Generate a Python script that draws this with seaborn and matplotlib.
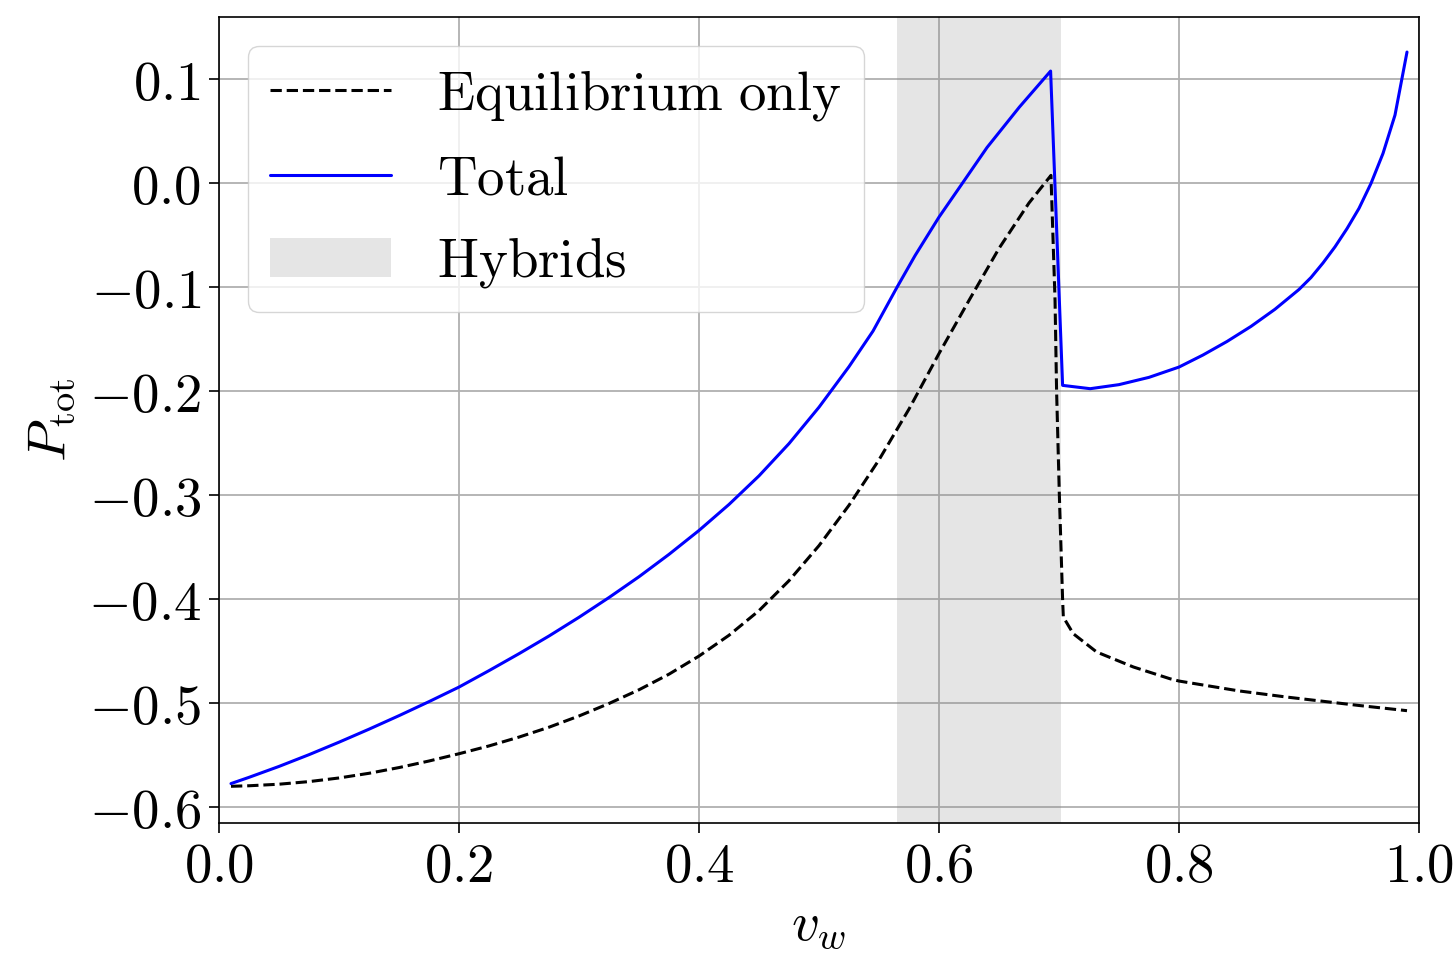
import numpy as np
import pandas as pd
import matplotlib
matplotlib.use("Agg")
import matplotlib.pyplot as plt
import seaborn as sns
from matplotlib.ticker import FuncFormatter
from matplotlib.patches import Patch
from matplotlib.lines import Line2D

# ---- data ----
vw_total = [0.01, 0.025, 0.05, 0.075, 0.10, 0.125, 0.15, 0.175, 0.20, 0.225, 0.25,
            0.275, 0.30, 0.325, 0.35, 0.375, 0.40, 0.425, 0.45, 0.475, 0.50, 0.525,
            0.545, 0.5647, 0.58, 0.60, 0.62, 0.64, 0.667, 0.693, 0.703, 0.726, 0.75,
            0.775, 0.80, 0.82, 0.84, 0.86, 0.88, 0.90, 0.91, 0.92, 0.93, 0.94, 0.95,
            0.96, 0.97, 0.98, 0.99]
p_total = [-0.5771, -0.5711, -0.5606, -0.5493, -0.5373, -0.5248, -0.5118, -0.4983,
           -0.4843, -0.4685, -0.4522, -0.4352, -0.4172, -0.3982, -0.3782, -0.3567,
           -0.3337, -0.3087, -0.2812, -0.2502, -0.2152, -0.1762, -0.1420, -0.1005,
           -0.0695, -0.0324, 0.0010, 0.0345, 0.0734, 0.1080, -0.1942, -0.1974,
           -0.1935, -0.1865, -0.1766, -0.1650, -0.1520, -0.1375, -0.1210, -0.1020,
           -0.0905, -0.0765, -0.0610, -0.0435, -0.0240, 0.0000, 0.0288, 0.0657,
           0.1263]

vw_eq = [0.01, 0.025, 0.05, 0.075, 0.10, 0.125, 0.15, 0.175, 0.20, 0.225, 0.25,
         0.275, 0.30, 0.325, 0.35, 0.375, 0.40, 0.425, 0.45, 0.475, 0.50, 0.525,
         0.55, 0.575, 0.60, 0.625, 0.65, 0.675, 0.6933, 0.6967, 0.698, 0.7003,
         0.703, 0.7036, 0.7119, 0.7314, 0.762, 0.7925, 0.80, 0.85, 0.889, 0.95, 0.99]
p_eq = [-0.5797, -0.5792, -0.5777, -0.5752, -0.5717, -0.5672, -0.5617, -0.5554,
        -0.5484, -0.5409, -0.5324, -0.5229, -0.5121, -0.5001, -0.4869, -0.4719,
        -0.4545, -0.4345, -0.4108, -0.3820, -0.3483, -0.3095, -0.2658, -0.2170,
        -0.1636, -0.1125, -0.0625, -0.0188, 0.0077, -0.1125, -0.2000, -0.3000,
        -0.4000, -0.4170, -0.4330, -0.4506, -0.4650, -0.4763, -0.4785, -0.4880,
        -0.4938, -0.5020, -0.5070]

hybrid_range = [0.5647, 0.7014]

labels = ["Equilibrium only", "Total", "Hybrids"]
xticks = [0.0, 0.2, 0.4, 0.6, 0.8, 1.0]
yticks = [-0.6, -0.5, -0.4, -0.3, -0.2, -0.1, 0.0, 0.1]

df_tot = pd.DataFrame({"vw": vw_total, "P": p_total})
df_eq = pd.DataFrame({"vw": vw_eq, "P": p_eq})

sns.set_theme(style="ticks")
plt.rcParams["mathtext.fontset"] = "cm"
plt.rcParams["font.family"] = ["DejaVu Serif"]
plt.rcParams["text.color"] = "black"
plt.rcParams["axes.labelcolor"] = "black"
plt.rcParams["xtick.color"] = "black"
plt.rcParams["ytick.color"] = "black"

FS = 39.5
fig = plt.figure(figsize=(14.55, 9.57), dpi=100)
ax = fig.add_axes([219/1455, 1 - 823/957, (1419-219)/1455, (823-17)/957])

ax.axvspan(hybrid_range[0], hybrid_range[1], color="gray", alpha=0.2, lw=0, zorder=1)
sns.lineplot(data=df_eq, x="vw", y="P", ax=ax, color="black", lw=2.2,
             linestyle="--", estimator=None, sort=False, zorder=3)
sns.lineplot(data=df_tot, x="vw", y="P", ax=ax, color="blue", lw=2.2,
             estimator=None, sort=False, zorder=3)

ax.set_xlim(0, 1)
ax.set_ylim(-0.615, 0.16)
ax.set_xticks(xticks)
ax.set_yticks(yticks)
fmt = FuncFormatter(lambda v, p: r"$%.1f$" % v)
ax.xaxis.set_major_formatter(fmt)
ax.yaxis.set_major_formatter(fmt)
ax.tick_params(labelsize=FS, length=7, width=1.2, colors="black", pad=6)
ax.grid(True, color="#b0b0b0", lw=1.3)
for s in ax.spines.values():
    s.set_color("black")
    s.set_linewidth(1.2)

ax.set_xlabel(r"$v_w$", fontsize=FS, labelpad=4, color="black")
ax.set_ylabel(r"$P_{\mathrm{tot}}$", fontsize=FS, labelpad=8, color="black")

handles = [Line2D([], [], color="black", lw=2.2, linestyle="--"),
           Line2D([], [], color="blue", lw=2.2),
           Patch(facecolor="gray", alpha=0.2, edgecolor="none")]
leg_labels = [r"$\mathrm{Equilibrium\ only}$", r"$\mathrm{Total}$", r"$\mathrm{Hybrids}$"]
leg = ax.legend(handles, leg_labels, loc="upper left", fontsize=FS, handlelength=2.2,
                frameon=True, framealpha=0.8, edgecolor="#cccccc", fancybox=True,
                borderaxespad=0.53, labelspacing=0.55, handletextpad=0.85)
for t in leg.get_texts():
    t.set_color("black")

fig.savefig("out.png", dpi=100)
